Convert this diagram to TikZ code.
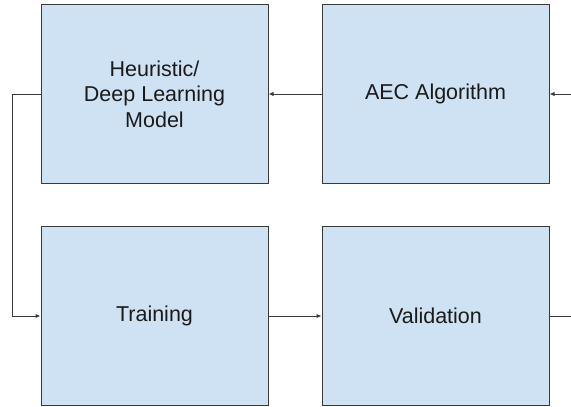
\documentclass[tikz,border=0pt]{standalone}
\usepackage{fontspec}
\setmainfont{Liberation Sans}
\usetikzlibrary{arrows.meta, positioning}
\definecolor{cfill}{HTML}{CFE2F3}
\definecolor{cline}{HTML}{3A3A3A}
\definecolor{ctext}{HTML}{1A1A1A}
\tikzset{
  every picture/.style={font=\fontsize{21.5}{25.5}\selectfont, line width=1pt},
  box/.style={draw=cline, fill=cfill, align=center, text=ctext, minimum width=227pt, minimum height=179pt, inner sep=0pt},
  arrow/.style={-{Latex[length=5pt, width=4.5pt]}, draw=cline},
  wire/.style={draw=cline},
}
\begin{document}
\begin{tikzpicture}[x=1pt, y=1pt]
  \useasboundingbox (0,0) rectangle (571,-407);

  \node[box] (heur) at (154.5,-94) {Heuristic/\\ Deep Learning\\ Model};
  \node[box, right=53pt of heur] (aec) {AEC Algorithm};
  \node[box, below=42pt of heur] (train) {Training};
  \node[box, right=53pt of train] (valid) {Validation};

  \coordinate (in) at (571,-94);
  \coordinate (out) at (valid.east -| in);
  \coordinate (loop) at (12,-94);

  \draw[arrow] (in) -- (aec.east);
  \draw[arrow] (aec.west) -- (heur.east);
  \draw[arrow] (heur.west) -- (loop) |- (train.west);
  \draw[arrow] (train.east) -- (valid.west);
  \draw[wire] (valid.east) -- (out);
\end{tikzpicture}
\end{document}
